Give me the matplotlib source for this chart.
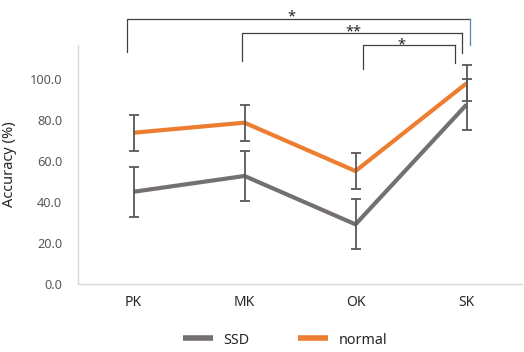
import matplotlib
matplotlib.use("Agg")
import matplotlib.pyplot as plt

categories = ["PK", "MK", "OK", "SK"]
ssd_mean = [45.0, 52.7, 29.1, 87.5]
ssd_err = [12.2, 12.1, 12.2, 12.5]
normal_mean = [73.8, 78.7, 55.1, 97.9]
normal_err = [8.7, 8.7, 8.9, 8.7]
yticks = [0, 20, 40, 60, 80, 100]

# significance brackets: (x_left, x_right, y_top, y_left_bottom, y_right_bottom, label, label_x, label_y)
brackets = [
    (0.44, 3.53, 129.3, 113.2, 116.4, "*", 1.92, 128.6),
    (1.48, 3.46, 122.5, 108.8, 112.7, "**", 2.48, 121.3),
    (2.57, 3.40, 116.8, 105.0, 108.0, "*", 2.91, 114.9),
]

plt.rcParams['font.family'] = ['Noto Sans', 'DejaVu Sans']

fig = plt.figure(figsize=(5.24, 3.52), dpi=100)
W, H = 524, 352
ax = fig.add_axes([78 / W, (H - 284) / H, 444 / W, (284 - 45) / H])

x = [i + 0.5 for i in range(len(categories))]
ax.plot(x, ssd_mean, color="#747070", lw=3, solid_capstyle="butt", label="SSD", zorder=2)
ax.plot(x, normal_mean, color="#ED7D31", lw=3, solid_capstyle="butt", label="normal", zorder=2)
ax.errorbar(x, ssd_mean, yerr=ssd_err, fmt="none", ecolor="#595959", elinewidth=1.3, capsize=3.5, capthick=1.3, zorder=3)
ax.errorbar(x, normal_mean, yerr=normal_err, fmt="none", ecolor="#595959", elinewidth=1.3, capsize=3.5, capthick=1.3, zorder=3)

ax.set_xlim(0, 4)
ax.set_ylim(0, 116.6)
ax.set_xticks(x)
ax.set_xticklabels(categories, fontsize=10, color="#262626")
ax.set_yticks(yticks)
ax.set_yticklabels([f"{v:.1f}" for v in yticks], fontsize=9.2, color="#595959")
ax.tick_params(axis="both", length=0)
ax.tick_params(axis="x", pad=8)
ax.tick_params(axis="y", pad=11.5)
for s in ["top", "right"]:
    ax.spines[s].set_visible(False)
for s in ["left", "bottom"]:
    ax.spines[s].set_color("#d9d9d9")
    ax.spines[s].set_linewidth(1)
ax.set_ylabel("Accuracy (%)", fontsize=10.5, color="#262626")
ax.yaxis.set_label_coords(-61 / 444, 0.5)

for i, (xl, xr, yt, ylb, yrb, lab, lx, ly) in enumerate(brackets):
    rc = "#5b7fbf" if i == 0 else "#404040"
    ax.plot([xl, xl, xr], [ylb, yt, yt], color="#404040", lw=0.9, clip_on=False)
    ax.plot([xr, xr], [yt, yrb], color=rc, lw=0.9, clip_on=False)
    ax.text(lx, ly, lab, ha="center", va="baseline", fontsize=10.5, color="#262626", clip_on=False)

leg = fig.legend(loc="center", bbox_to_anchor=(285 / W, (H - 340) / H), ncol=2, frameon=False,
                 fontsize=10.3, handlelength=2.1, columnspacing=3.4, handletextpad=0.75)
for t in leg.get_texts():
    t.set_color("#262626")
for l in leg.get_lines():
    l.set_linewidth(4)

fig.savefig("out.png", dpi=100)
